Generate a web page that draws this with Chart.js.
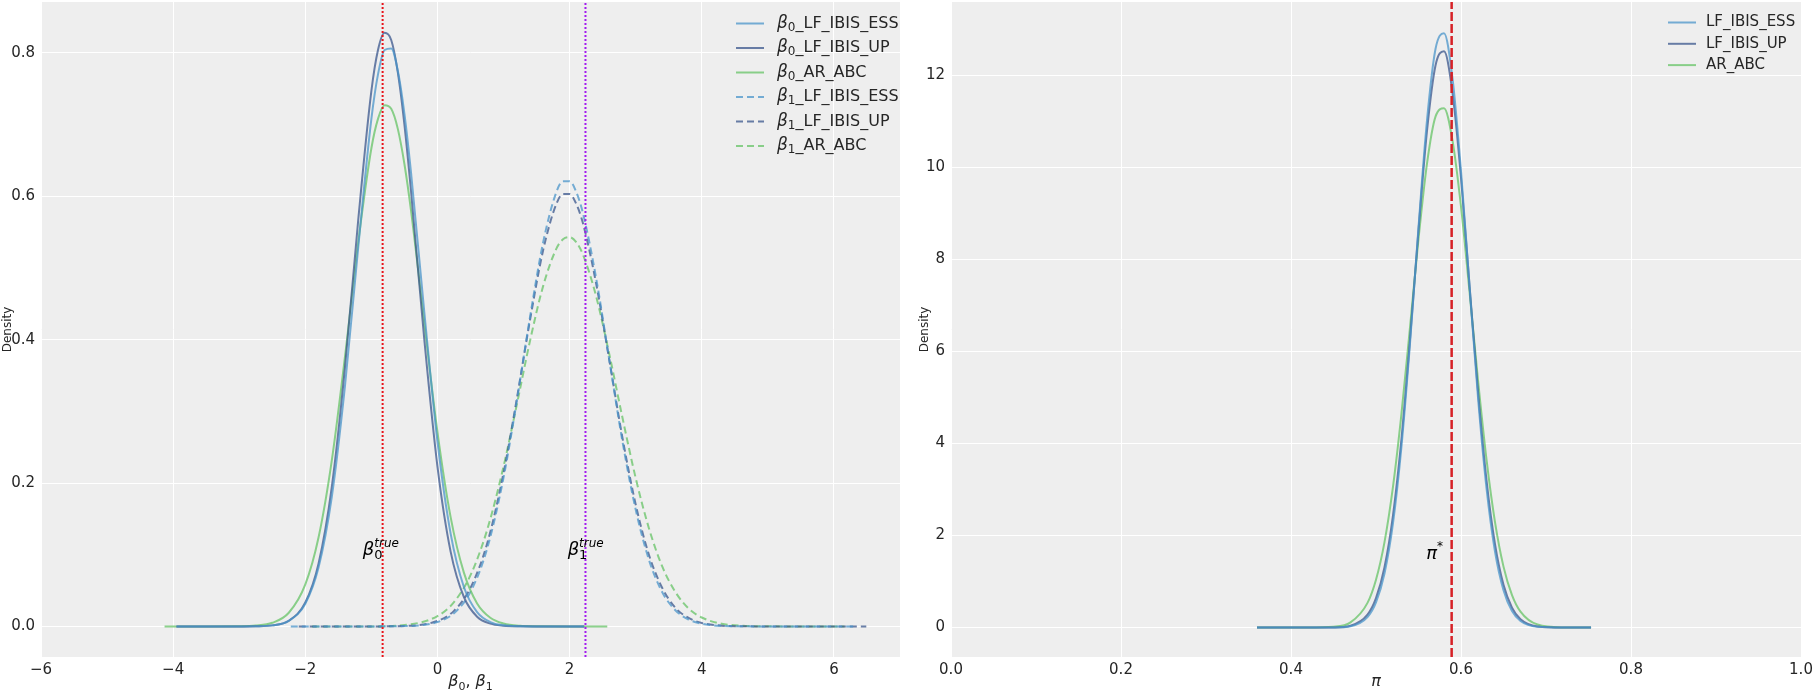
<!DOCTYPE html>
<html>
<head>
<meta charset="utf-8">
<script src="https://cdn.jsdelivr.net/npm/chart.js@4.4.0/dist/chart.umd.min.js"></script>
<style>
    html, body { margin: 0; padding: 0; background: #ffffff; }
    #leftBox { position: absolute; left: 0; top: 0; width: 910px; height: 693px; }
    #rightBox { position: absolute; left: 910px; top: 0; width: 909px; height: 693px; }
</style>
</head>
<body>
<div id="leftBox"><canvas id="betaChart" width="910" height="693"></canvas></div>
<div id="rightBox"><canvas id="piChart" width="909" height="693"></canvas></div>
<script>
// series names and colours
const seriesNames = ['LF_IBIS_ESS', 'LF_IBIS_UP', 'AR_ABC'];
const seriesColors = ['rgba(74,148,201,0.75)', 'rgba(58,86,140,0.75)', 'rgba(101,195,101,0.75)'];

// beta_0 densities
const beta0X = [-4.13, -3.95, -3.5, -3.0, -2.75, -2.5, -2.25, -2.0, -1.8, -1.6, -1.4, -1.2, -1.0, -0.9, -0.8, -0.7, -0.6, -0.5, -0.4, -0.2, 0.0, 0.2, 0.4, 0.6, 0.8, 1.0, 1.25, 1.5, 2.0, 2.22, 2.57];
const beta0Ess = [null, 0, 0, 0, 0.0002, 0.0014, 0.0077, 0.0317, 0.082, 0.180, 0.335, 0.528, 0.708, 0.770, 0.804, 0.806, 0.775, 0.715, 0.633, 0.439, 0.258, 0.129, 0.055, 0.020, 0.006, 0.0015, 0.0002, 0, 0, 0, null];
const beta0Up = [null, 0, 0, 0, 0.0002, 0.0014, 0.0078, 0.0333, 0.0875, 0.194, 0.361, 0.566, 0.747, 0.804, 0.828, 0.818, 0.773, 0.700, 0.607, 0.401, 0.223, 0.104, 0.041, 0.0135, 0.0038, 0.0009, 0.0001, 0, 0, 0, null];
const beta0Abc = [0, 0, 0, 0.0002, 0.0011, 0.0050, 0.0190, 0.0586, 0.124, 0.231, 0.376, 0.535, 0.667, 0.708, 0.727, 0.722, 0.694, 0.645, 0.580, 0.424, 0.271, 0.152, 0.075, 0.032, 0.012, 0.004, 0.0008, 0.0002, 0, 0, 0];

// beta_1 densities
const beta1X = [-2.22, -2.1, -1.9, -1.0, -0.5, 0.0, 0.25, 0.5, 0.75, 1.0, 1.2, 1.4, 1.6, 1.8, 1.9, 2.0, 2.1, 2.2, 2.4, 2.6, 2.8, 3.0, 3.2, 3.4, 3.6, 3.8, 4.0, 4.3, 4.6, 5.0, 5.5, 6.16, 6.3, 6.49];
const beta1Ess = [0, 0, 0, 0, 0.0004, 0.0061, 0.0184, 0.0481, 0.108, 0.2075, 0.314, 0.431, 0.536, 0.606, 0.621, 0.621, 0.606, 0.577, 0.4865, 0.372, 0.258, 0.163, 0.093, 0.048, 0.0226, 0.0096, 0.0037, 0.0007, 0.0001, 0, 0, 0, 0, null];
const beta1Up = [null, 0, 0, 0, 0.0006, 0.0076, 0.0217, 0.0538, 0.115, 0.214, 0.317, 0.427, 0.525, 0.5895, 0.603, 0.603, 0.5895, 0.563, 0.479, 0.372, 0.263, 0.170, 0.100, 0.054, 0.026, 0.0118, 0.0048, 0.0010, 0.0002, 0, 0, 0, 0, 0];
const beta1Abc = [null, null, 0, 0, 0.0018, 0.0144, 0.0339, 0.0714, 0.134, 0.223, 0.309, 0.398, 0.475, 0.527, 0.540, 0.543, 0.536, 0.519, 0.461, 0.380, 0.291, 0.207, 0.137, 0.084, 0.048, 0.025, 0.0124, 0.0037, 0.0009, 0.0001, 0, 0, null, null];

// pi densities
const piX = [0.36, 0.42, 0.45, 0.47, 0.49, 0.50, 0.51, 0.52, 0.53, 0.54, 0.55, 0.56, 0.57, 0.58, 0.59, 0.60, 0.61, 0.62, 0.63, 0.64, 0.65, 0.66, 0.67, 0.69, 0.72, 0.753];
const piEss = [0, 0, 0.0025, 0.029, 0.229, 0.546, 1.174, 2.267, 3.943, 6.172, 8.693, 11.02, 12.57, 12.91, 11.93, 9.917, 7.422, 4.999, 3.029, 1.652, 0.812, 0.358, 0.142, 0.016, 0, 0];
const piUp = [0, 0, 0.004, 0.041, 0.282, 0.640, 1.312, 2.439, 4.105, 6.255, 8.634, 10.79, 12.21, 12.52, 11.62, 9.773, 7.441, 5.131, 3.204, 1.812, 0.928, 0.431, 0.181, 0.024, 0, 0];
const piAbc = [0, 0, 0.017, 0.113, 0.537, 1.040, 1.857, 3.060, 4.652, 6.524, 8.441, 10.08, 11.10, 11.28, 10.58, 9.148, 7.301, 5.377, 3.653, 2.290, 1.324, 0.707, 0.348, 0.066, 0.003, 0];

// true values
const beta0True = -0.83;
const beta1True = 2.24;
const piStar = 0.589;

// ticks
const betaXTicks = [-6, -4, -2, 0, 2, 4, 6];
const betaYTicks = [0, 0.2, 0.4, 0.6, 0.8];
const piXTicks = [0, 0.2, 0.4, 0.6, 0.8, 1.0];
const piYTicks = [0, 2, 4, 6, 8, 10, 12];

const FONT = '"DejaVu Sans", sans-serif';
const TEXT = '#262626';

function pts(xs, ys) {
    return xs.map((x, i) => ({ x: x, y: ys[i] }));
}

function curve(label, xs, ys, color, dashed) {
    return {
        label: label,
        data: pts(xs, ys),
        borderColor: color,
        borderWidth: 2,
        borderDash: dashed ? [7, 4] : [],
        pointRadius: 0,
        cubicInterpolationMode: 'monotone',
        spanGaps: false,
        fill: false
    };
}

function vline(x, yMin, yMax, color, dash, width) {
    return {
        label: 'ref',
        data: [{ x: x, y: yMin }, { x: x, y: yMax }],
        borderColor: color,
        borderWidth: width,
        borderDash: dash,
        pointRadius: 0,
        order: -1
    };
}

// draw a run of text pieces (for sub/superscripts); a piece with stack:true does not advance x
function drawRich(ctx, parts, x, y) {
    let cx = x;
    parts.forEach(p => {
        ctx.font = p.font;
        ctx.fillText(p.t, cx, y + (p.dy || 0));
        if (!p.stack) cx += ctx.measureText(p.t).width;
    });
    return cx;
}

function richWidth(ctx, parts) {
    let w = 0;
    parts.forEach(p => { ctx.font = p.font; if (!p.stack) w += ctx.measureText(p.t).width; });
    return w;
}

function betaParts(sub, size) {
    return [
        { t: 'β', font: 'italic ' + size + 'px ' + FONT },
        { t: sub, font: Math.round(size * 0.7) + 'px ' + FONT, dy: size * 0.25 }
    ];
}

function betaTrueParts(sub) {
    return [
        { t: 'β', font: 'italic 18px ' + FONT },
        { t: sub, font: '13px ' + FONT, dy: 4, stack: true },
        { t: 'true', font: 'italic 12px ' + FONT, dy: -8 }
    ];
}

const panelBg = {
    id: 'panelBg',
    beforeDraw(chart) {
        const { ctx, chartArea: a } = chart;
        ctx.save();
        ctx.fillStyle = '#EEEEEE';
        ctx.fillRect(a.left, a.top, a.right - a.left, a.bottom - a.top);
        ctx.restore();
    }
};

function axisTitles(xParts, yText, yOffset) {
    return {
        id: 'axisTitles',
        afterDraw(chart) {
            const { ctx, chartArea: a } = chart;
            ctx.save();
            ctx.fillStyle = TEXT;
            ctx.textBaseline = 'alphabetic';
            const w = richWidth(ctx, xParts);
            drawRich(ctx, xParts, (a.left + a.right) / 2 - w / 2, 686);
            ctx.translate(a.left - yOffset, (a.top + a.bottom) / 2);
            ctx.rotate(-Math.PI / 2);
            ctx.font = '12px ' + FONT;
            ctx.textAlign = 'center';
            ctx.textBaseline = 'middle';
            ctx.fillText(yText, 0, 0);
            ctx.restore();
        }
    };
}

function legendPlugin(items, rowGap, firstRow, lineOffset, textGap) {
    return {
        id: 'customLegend',
        afterDraw(chart) {
            const { ctx, chartArea: a } = chart;
            ctx.save();
            items.forEach((it, i) => {
                const y = a.top + firstRow + i * rowGap;
                const x0 = a.right - lineOffset;
                ctx.strokeStyle = it.color;
                ctx.lineWidth = 2;
                ctx.setLineDash(it.dashed ? [7, 4] : []);
                ctx.beginPath();
                ctx.moveTo(x0, y);
                ctx.lineTo(x0 + 28, y);
                ctx.stroke();
                ctx.setLineDash([]);
                ctx.fillStyle = TEXT;
                ctx.textBaseline = 'middle';
                drawRich(ctx, it.parts, x0 + textGap, y);
            });
            ctx.restore();
        }
    };
}

function annotations(list) {
    return {
        id: 'annot',
        afterDatasetsDraw(chart) {
            const { ctx, scales } = chart;
            ctx.save();
            ctx.fillStyle = '#000000';
            ctx.textBaseline = 'alphabetic';
            list.forEach(an => {
                drawRich(ctx, an.parts, scales.x.getPixelForValue(an.x), scales.y.getPixelForValue(an.y));
            });
            ctx.restore();
        }
    };
}

function scaleOpts(min, max, tickVals, fmt, isX, fitSize) {
    return {
        type: 'linear',
        min: min,
        max: max,
        afterBuildTicks: axis => { axis.ticks = tickVals.map(v => ({ value: v })); },
        afterFit: axis => {
            axis.paddingTop = 0;
            axis.paddingBottom = 0;
            axis.paddingLeft = 0;
            axis.paddingRight = 0;
            if (isX) axis.height = fitSize; else axis.width = fitSize;
        },
        grid: { color: '#FFFFFF', lineWidth: 1, drawTicks: false },
        border: { display: false },
        ticks: {
            autoSkip: false,
            maxRotation: 0,
            padding: isX ? 4 : 6,
            color: TEXT,
            font: { family: FONT, size: 15 },
            callback: v => fmt(v)
        }
    };
}

const minus = s => s.replace('-', '\u2212');

// left panel: beta_0 and beta_1
const betaYMin = -0.0427, betaYMax = 0.871;
const betaPairs = [[beta0Ess, beta1Ess], [beta0Up, beta1Up], [beta0Abc, beta1Abc]];
const betaSets = [];
const betaItems = [];
betaPairs.forEach((pair, i) => {
    betaSets.push(curve('b0_' + seriesNames[i], beta0X, pair[0], seriesColors[i], false));
});
betaPairs.forEach((pair, i) => {
    betaSets.push(curve('b1_' + seriesNames[i], beta1X, pair[1], seriesColors[i], true));
});
['0', '1'].forEach(sub => {
    seriesNames.forEach((name, i) => {
        betaItems.push({
            color: seriesColors[i],
            dashed: sub === '1',
            parts: betaParts(sub, 17).concat([{ t: '_' + name, font: '16px ' + FONT }])
        });
    });
});
betaSets.push(vline(beta0True, betaYMin, betaYMax, '#E8141A', [2, 2], 2));
betaSets.push(vline(beta1True, betaYMin, betaYMax, '#A21CF0', [2, 2], 2));

new Chart(document.getElementById('betaChart'), {
    type: 'line',
    data: { datasets: betaSets },
    options: {
        responsive: false,
        animation: false,
        devicePixelRatio: 1,
        layout: { padding: { top: 2, right: 10, left: 0, bottom: 0 } },
        plugins: { legend: { display: false }, tooltip: { enabled: false } },
        scales: {
            x: scaleOpts(-6, 7, betaXTicks, v => minus(String(v)), true, 36),
            y: scaleOpts(betaYMin, betaYMax, betaYTicks, v => minus(v.toFixed(1)), false, 41)
        }
    },
    plugins: [
        panelBg,
        axisTitles(betaParts('0', 16).concat([{ t: ', ', font: '16px ' + FONT }]).concat(betaParts('1', 16)), 'Density', 33),
        legendPlugin(betaItems, 24.5, 21.5, 164, 41),
        annotations([
            { x: beta0True - 0.3, y: 0.1, parts: betaTrueParts('0') },
            { x: beta1True - 0.27, y: 0.1, parts: betaTrueParts('1') }
        ])
    ]
});

// right panel: pi
const piYMin = -0.639, piYMax = 13.59;
const piSets = [
    curve(seriesNames[0], piX, piEss, seriesColors[0], false),
    curve(seriesNames[1], piX, piUp, seriesColors[1], false),
    curve(seriesNames[2], piX, piAbc, seriesColors[2], false),
    vline(piStar, piYMin, piYMax, '#D62126', [9, 3], 2.5)
];
const piItems = seriesNames.map((name, i) => ({
    color: seriesColors[i],
    dashed: false,
    parts: [{ t: name, font: '15px ' + FONT }]
}));

new Chart(document.getElementById('piChart'), {
    type: 'line',
    data: { datasets: piSets },
    options: {
        responsive: false,
        animation: false,
        devicePixelRatio: 1,
        layout: { padding: { top: 2, right: 18, left: 0, bottom: 0 } },
        plugins: { legend: { display: false }, tooltip: { enabled: false } },
        scales: {
            x: scaleOpts(0, 1, piXTicks, v => v.toFixed(1), true, 36),
            y: scaleOpts(piYMin, piYMax, piYTicks, v => String(v), false, 41)
        }
    },
    plugins: [
        panelBg,
        axisTitles([{ t: 'π', font: 'italic 16px ' + FONT }], 'Density', 26),
        legendPlugin(piItems, 21.3, 20.5, 133, 38),
        annotations([
            { x: piStar - 0.03, y: 1.5, parts: [{ t: 'π', font: 'italic 18px ' + FONT }, { t: '*', font: '12px ' + FONT, dy: -9 }] }
        ])
    ]
});
</script>
</body>
</html>
